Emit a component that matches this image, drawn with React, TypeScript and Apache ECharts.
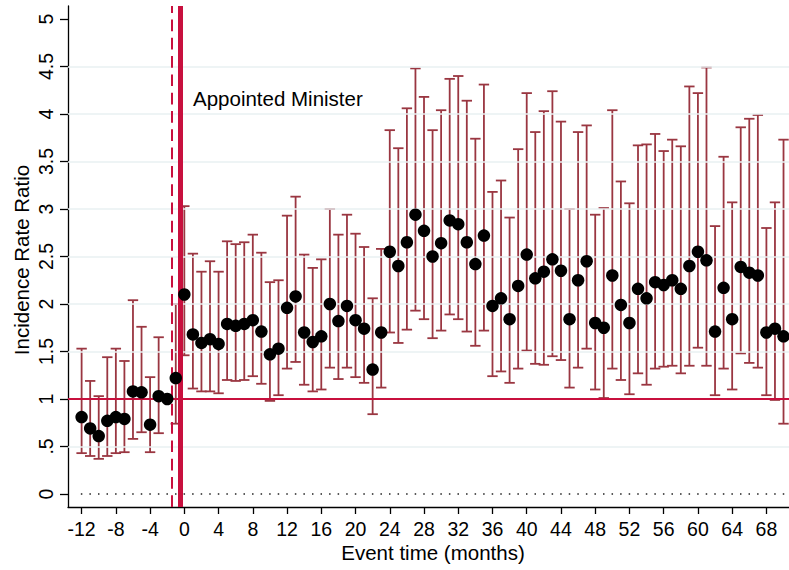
import React, { useEffect, useRef } from "react";
import * as echarts from "echarts";

const months: number[] = [];
for (let m = -12; m <= 70; m++) months.push(m);

const irr: number[] = [
  0.81, 0.69, 0.61, 0.77, 0.81, 0.79, 1.08, 1.07, 0.73, 1.03, 1.0, 1.22,
  2.1, 1.68, 1.59, 1.63, 1.58, 1.79, 1.77, 1.79, 1.83, 1.71, 1.47, 1.53,
  1.96, 2.08, 1.7, 1.6, 1.66, 2.0, 1.82, 1.98, 1.83, 1.74, 1.31, 1.7,
  2.55, 2.4, 2.65, 2.94, 2.77, 2.5, 2.64, 2.88, 2.84, 2.65, 2.42, 2.72,
  1.98, 2.06, 1.84, 2.19, 2.52, 2.27, 2.34, 2.47, 2.35, 1.84, 2.25, 2.45,
  1.8, 1.75, 2.3, 1.99, 1.8, 2.16, 2.06, 2.23, 2.2, 2.25, 2.16, 2.4,
  2.55, 2.46, 1.71, 2.17, 1.84, 2.39, 2.33, 2.3, 1.7, 1.74, 1.66,
];

const ciLow: (number | null)[] = [
  0.43, 0.4, 0.37, 0.4, 0.43, 0.44, 0.58, 0.65, 0.44, 0.64, null, 0.74,
  1.46, 1.11, 1.08, 1.08, 1.06, 1.2, 1.19, 1.2, 1.24, 1.16, 0.98, 1.04,
  1.32, 1.39, 1.15, 1.08, 1.1, 1.33, 1.21, 1.33, 1.23, 1.17, 0.84, 1.12,
  1.7, 1.59, 1.73, 1.93, 1.84, 1.64, 1.72, 1.89, 1.84, 1.71, 1.56, 1.72,
  1.24, 1.29, 1.17, 1.32, 1.51, 1.37, 1.36, 1.45, 1.41, 1.12, 1.33, 1.53,
  1.1, 1.01, 1.32, 1.2, 1.05, 1.27, 1.15, 1.32, 1.34, 1.35, 1.27, 1.35,
  1.54, 1.35, 1.04, 1.32, 1.1, 1.48, 1.38, 1.33, 1.04, 0.99, 0.74,
];

const ciHigh: (number | null)[] = [
  1.53, 1.19, 1.03, 1.44, 1.53, 1.4, 2.04, 1.76, 1.23, 1.65, null, 2.0,
  3.03, 2.53, 2.34, 2.45, 2.34, 2.66, 2.63, 2.65, 2.73, 2.54, 2.23, 2.25,
  2.93, 3.13, 2.52, 2.38, 2.47, 3.0, 2.73, 2.94, 2.74, 2.6, 2.06, 2.58,
  3.83, 3.64, 4.06, 4.48, 4.18, 3.83, 4.04, 4.37, 4.4, 4.14, 3.74, 4.31,
  3.18, 3.3, 2.91, 3.63, 4.22, 3.81, 4.03, 4.24, 3.92, 3.0, 3.81, 3.88,
  2.94, 3.01, 4.04, 3.29, 3.06, 3.67, 3.68, 3.79, 3.61, 3.73, 3.66, 4.29,
  4.22, 4.49, 2.82, 3.55, 3.07, 3.86, 3.95, 3.99, 2.8, 3.07, 3.73,
];

const xTicks: number[] = [-12, -8, -4, 0, 4, 8, 12, 16, 20, 24, 28, 32, 36, 40, 44, 48, 52, 56, 60, 64, 68];
const yTicks: number[] = [0, 0.5, 1, 1.5, 2, 2.5, 3, 3.5, 4, 4.5, 5];
const yTickLabels: string[] = ["0", ".5", "1", "1.5", "2", "2.5", "3", "3.5", "4", "4.5", "5"];
const gridValues: number[] = [0.5, 1.5, 2, 2.5, 3, 3.5, 4, 4.5];
const announceMonth = -1.47;
const appointMonth = -0.48;
const referenceLine = 1;
const eventLabel = "Appointed Minister";

const FONT = "'Liberation Sans', Arial, Helvetica, sans-serif";
const RED = "#c8103e";
const BAR = "#9a3641";

export default function App() {
  const ref = useRef<HTMLDivElement>(null);
  useEffect(() => {
    if (!ref.current) return;
    const chart = echarts.init(ref.current, undefined, { renderer: "svg" });
    const xMin = -13.59;
    const xMax = 70.64;
    const yMin = -0.137;
    const yMax = 5.137;

    const barData = months
      .map((m, i) => [m, ciLow[i], ciHigh[i]])
      .filter((d) => d[1] != null && d[2] != null);

    const option: any = {
      animation: false,
      textStyle: { fontFamily: FONT },
      grid: { left: 68, right: 0, top: 6, bottom: 63, containLabel: false },
      xAxis: {
        type: "value",
        min: xMin,
        max: xMax,
        axisLine: { show: true, onZero: false, lineStyle: { color: "#000", width: 1.3 } },
        axisTick: { show: true, customValues: xTicks, length: 7, lineStyle: { color: "#000", width: 1.3 } },
        axisLabel: {
          customValues: xTicks,
          fontSize: 19.5,
          color: "#000",
          fontFamily: FONT,
          margin: 12,
          formatter: (v: number) => String(v),
        },
        splitLine: { show: false },
      },
      yAxis: {
        type: "value",
        min: yMin,
        max: yMax,
        axisLine: { show: true, onZero: false, lineStyle: { color: "#000", width: 1.3 } },
        axisTick: { show: true, customValues: yTicks, length: 8, lineStyle: { color: "#000", width: 1.3 } },
        axisLabel: {
          customValues: yTicks,
          rotate: 90,
          fontSize: 19.5,
          color: "#000",
          fontFamily: FONT,
          margin: 12,
          formatter: (v: number) => {
            const idx = yTicks.findIndex((t) => Math.abs(t - v) < 1e-6);
            return idx >= 0 ? yTickLabels[idx] : "";
          },
        },
        splitLine: { show: false },
      },
      graphic: [
        {
          type: "text",
          x: 193,
          y: 98.5,
          style: { text: eventLabel, font: `20.5px ${FONT}`, fill: "#000", align: "left", verticalAlign: "middle" },
          z: 100,
        },
        {
          type: "text",
          x: 433,
          y: 552,
          style: { text: "Event time (months)", font: `20.5px ${FONT}`, fill: "#000", align: "center", verticalAlign: "middle" },
        },
        {
          type: "text",
          x: 21.5,
          y: 260,
          rotation: Math.PI / 2,
          style: { text: "Incidence Rate Ratio", font: `20.5px ${FONT}`, fill: "#000", align: "center", verticalAlign: "middle" },
        },
      ],
      series: [
        {
          type: "line",
          name: "grid",
          silent: true,
          data: [],
          z: 1,
          markLine: {
            silent: true,
            symbol: "none",
            label: { show: false },
            lineStyle: { color: "#e8f0f2", width: 1.5, type: "solid" },
            data: gridValues.map((v) => ({ yAxis: v })),
          },
        },
        {
          type: "line",
          name: "zero",
          silent: true,
          showSymbol: false,
          symbol: "none",
          data: [[-12.09, 0], [xMax, 0]],
          lineStyle: { color: "#222", width: 1.5, type: [1.5, 7.06] },
          z: 2,
        },
        {
          type: "line",
          name: "ref",
          silent: true,
          data: [],
          z: 3,
          markLine: {
            silent: true,
            symbol: "none",
            label: { show: false },
            lineStyle: { color: RED, width: 2, type: "solid" },
            data: [{ yAxis: referenceLine }],
          },
        },
        {
          type: "custom",
          name: "ci",
          silent: true,
          z: 4,
          data: barData,
          encode: { x: 0, y: [1, 2] },
          renderItem: (params: any, api: any) => {
            const x = api.value(0);
            const lo = api.coord([x, api.value(1)]);
            const hi = api.coord([x, api.value(2)]);
            const w = 5.2;
            const style = { stroke: BAR, lineWidth: 1.8, fill: "none" };
            return {
              type: "group",
              children: [
                { type: "line", shape: { x1: lo[0], y1: lo[1], x2: hi[0], y2: hi[1] }, style },
                { type: "line", shape: { x1: hi[0] - w, y1: hi[1], x2: hi[0] + w, y2: hi[1] }, style },
                { type: "line", shape: { x1: lo[0] - w, y1: lo[1], x2: lo[0] + w, y2: lo[1] }, style },
              ],
            };
          },
        },
        {
          type: "line",
          name: "vlines",
          silent: true,
          data: [],
          z: 5,
          markLine: {
            silent: true,
            symbol: "none",
            label: { show: false },
            data: [
              { xAxis: announceMonth, lineStyle: { color: RED, width: 2, type: [11.7, 6.6] } },
              { xAxis: appointMonth, lineStyle: { color: RED, width: 5, type: "solid" } },
            ],
          },
        },
        {
          type: "scatter",
          name: "irr",
          silent: true,
          z: 6,
          symbol: "circle",
          symbolSize: 12.5,
          itemStyle: { color: "#000", opacity: 1 },
          data: months.map((m, i) => [m, irr[i]]),
        },
      ],
    };
    chart.setOption(option);
    return () => chart.dispose();
  }, []);
  return (
    <div
      ref={ref}
      style={{ position: "fixed", left: 0, top: 0, width: 789, height: 570, background: "#fff" }}
    />
  );
}
